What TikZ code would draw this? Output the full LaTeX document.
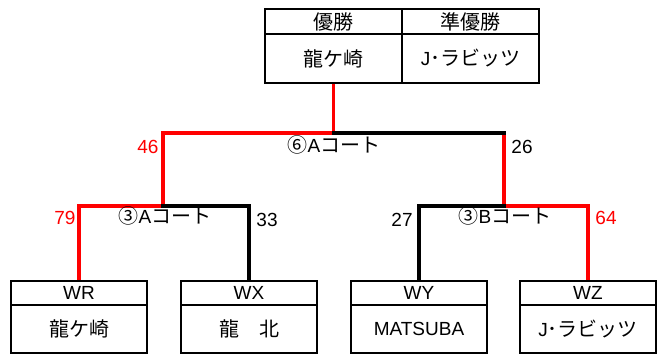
\documentclass[tikz,border=0pt]{standalone}
\usepackage{fontspec}
\setmainfont{Liberation Sans}
\newfontfamily\jp{Noto Sans CJK JP}
\usetikzlibrary{backgrounds}
\pgfdeclarelayer{edgelayer}
\pgfdeclarelayer{nodelayer}
\pgfsetlayers{edgelayer,nodelayer,main}
\tikzset{font=\fontsize{19}{19}\selectfont}
\newcommand{\ja}[1]{{\jp\fontsize{20}{20}\selectfont #1}}
\tikzstyle{none}=[inner sep=0pt]
\tikzstyle{cell}=[draw,line width=2pt,inner sep=0pt,minimum width=136pt]
\tikzstyle{head}=[cell,minimum height=24pt]
\tikzstyle{team}=[cell,minimum height=48pt]
\tikzstyle{win}=[line width=3.5pt,red,line cap=rect]
\tikzstyle{lose}=[line width=3.5pt,black,line cap=rect]

\begin{document}
\begin{tikzpicture}[x=1pt,y=-1pt]
	\useasboundingbox (0,0) rectangle (660,355);
	\begin{pgfonlayer}{nodelayer}
		\node [style=head, minimum width=137pt, minimum height=25pt] (0) at (333.5, 21.5) {\ja{優勝}};
		\node [style=head, minimum width=137pt, minimum height=25pt] (1) at (470.5, 21.5) {\ja{準優勝}};
		\node [style=team, minimum width=137pt, minimum height=49pt] (2) at (333.5, 58.5) {\ja{龍ケ崎}};
		\node [style=team, minimum width=137pt, minimum height=49pt] (3) at (470.5, 58.5) {J\ja{･ラビッツ}};
		\node [style=head] (4) at (79, 293) {WR};
		\node [style=team] (5) at (79, 329) {\ja{龍ケ崎}};
		\node [style=head] (6) at (249, 293) {WX};
		\node [style=team] (7) at (249, 329) {\ja{龍　北}};
		\node [style=head] (8) at (419, 293) {WY};
		\node [style=team] (9) at (419, 329) {MATSUBA};
		\node [style=head] (10) at (588, 293) {WZ};
		\node [style=team] (11) at (588, 329) {J\ja{･ラビッツ}};
		\node [style=none] (20) at (333.5, 133) {};
		\node [style=none] (21) at (163, 133) {};
		\node [style=none] (22) at (504, 133) {};
		\node [style=none] (23) at (163, 206) {};
		\node [style=none] (24) at (504, 206) {};
		\node [style=none] (25) at (79, 206) {};
		\node [style=none] (26) at (249, 206) {};
		\node [style=none] (27) at (419, 206) {};
		\node [style=none] (28) at (588, 206) {};
		\node [style=none] (30) at (334, 145) {\ja{⑥}A\ja{コート}};
		\node [style=none, red] (31) at (148, 147) {46};
		\node [style=none] (32) at (522, 147) {26};
		\node [style=none] (33) at (165, 216) {\ja{③}A\ja{コート}};
		\node [style=none] (34) at (505, 216) {\ja{③}B\ja{コート}};
		\node [style=none, red] (35) at (65, 218) {79};
		\node [style=none] (36) at (267, 220) {33};
		\node [style=none] (37) at (402, 220) {27};
		\node [style=none, red] (38) at (606, 218) {64};
	\end{pgfonlayer}
	\begin{pgfonlayer}{edgelayer}
		\draw [style=win] (2.south) to (20.center) to (21.center) to (23.center) to (25.center) to (4.north);
		\draw [style=win] (22.center) to (24.center) to (28.center) to (10.north);
		\draw [style=lose] (20.center) to (22.center);
		\draw [style=lose] (23.center) to (26.center) to (6.north);
		\draw [style=lose] (24.center) to (27.center) to (8.north);
	\end{pgfonlayer}
\end{tikzpicture}
\end{document}
